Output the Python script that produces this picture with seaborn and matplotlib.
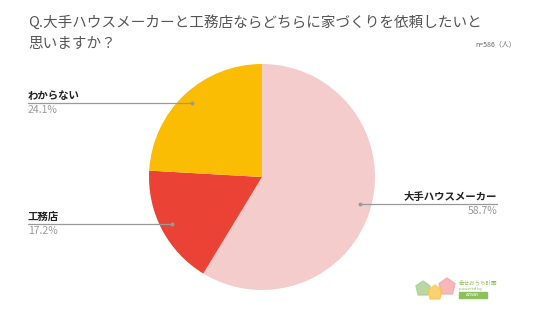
import numpy as np
import matplotlib
matplotlib.use("Agg")
import matplotlib.pyplot as plt
import seaborn as sns
from matplotlib.patches import Polygon

categories = ["大手ハウスメーカー", "工務店", "わからない"]
values = [58.7, 17.2, 24.1]
pct_labels = ["58.7%", "17.2%", "24.1%"]
colors = ["#F4CCCC", "#EA4335", "#FBBC04"]
title_lines = ["Q.大手ハウスメーカーと工務店ならどちらに家づくりを依頼したいと", "思いますか？"]
note = "n=586（人）"

sns.set_theme(style="white")
plt.rcParams['font.family'] = ['Noto Sans CJK JP', 'DejaVu Sans']

W, H = 536, 317
fig = plt.figure(figsize=(W / 100, H / 100), dpi=100)
ax = fig.add_axes([0, 0, 1, 1])

cx, cy, r = 262, 177, 113
# y axis is inverted (pixel-like coords), so counterclock in data = clockwise on screen
wedges, _ = ax.pie(values, colors=colors, startangle=270, counterclock=True,
                   center=(cx, cy), radius=r, frame=True,
                   wedgeprops=dict(linewidth=0))
ax.set_xlim(0, W)
ax.set_ylim(H, 0)
ax.set_aspect("equal")
ax.axis("off")

label_side = ["right", "left", "left"]
left_x, right_x = 28, 497
for w, cat, pct, side in zip(wedges, categories, pct_labels, label_side):
    mid = np.deg2rad((w.theta1 + w.theta2) / 2)
    px = cx + 0.9 * r * np.cos(mid)
    py = cy + 0.9 * r * np.sin(mid)
    x0 = left_x if side == "left" else right_x
    ha = "left" if side == "left" else "right"
    ax.plot([x0, px], [py, py], color="#999999", lw=0.9)
    ax.plot(px, py, "o", ms=1.8, color="#999999")
    ax.text(x0, py - 2, cat, ha=ha, va="bottom", fontsize=7.5,
            fontweight="bold", color="#222222")
    ax.text(x0, py + 2, pct, ha=ha, va="top", fontsize=7.5, color="#9a9a9a")

ax.text(28, 22, title_lines[0], ha="left", va="center", fontsize=10.5, color="#555555")
ax.text(28, 44, title_lines[1], ha="left", va="center", fontsize=10.5, color="#555555")
ax.text(516, 44, note, ha="right", va="center", fontsize=5, color="#666666")

# simple logo
def pent(x, y, s, c):
    pts = [(x, y - s), (x + s, y - 0.3 * s), (x + 0.7 * s, y + s), (x - 0.7 * s, y + s), (x - s, y - 0.3 * s)]
    ax.add_patch(Polygon(pts, closed=True, color=c, alpha=0.8))
pent(423, 288, 7, "#A8D08D")
pent(447, 286, 8, "#F4A7A7")
pent(435, 292, 7, "#F9C74F")
ax.text(459, 282, "幸せおうち計画", fontsize=4, color="#8DC05A", ha="left", va="center")
ax.text(459, 289, "powered by", fontsize=3, color="#8DC05A", ha="left", va="center")
ax.add_patch(plt.Rectangle((459, 292), 28, 6, color="#8DC05A"))
ax.text(473, 295, "AZWAY", fontsize=3, color="white", ha="center", va="center")

fig.savefig("out.png", dpi=100, facecolor="white")
